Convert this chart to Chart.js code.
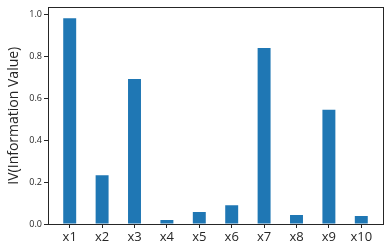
<!DOCTYPE html>
<html>
<head>
  <script src="https://cdn.jsdelivr.net/npm/chart.js@4.4.1/dist/chart.umd.min.js"></script>
<style>
  body { margin: 0; background: #fff; }
</style>
</head>
<body>
  <canvas id="myChart" width="390" height="251"></canvas>
  <script>
    // variables and their IV values
    var categories = ['x1', 'x2', 'x3', 'x4', 'x5', 'x6', 'x7', 'x8', 'x9', 'x10'];
    var ivValues = [0.981, 0.232, 0.692, 0.019, 0.057, 0.090, 0.839, 0.043, 0.545, 0.038];
    var yTicks = [0.0, 0.2, 0.4, 0.6, 0.8, 1.0];

    var axisColor = '#262626';

    // full box round the plot, like matplotlib spines
    var frame = {
      id: 'frame',
      afterDraw: function (chart) {
        var a = chart.chartArea, c = chart.ctx;
        c.save();
        c.strokeStyle = axisColor;
        c.lineWidth = 1;
        c.strokeRect(Math.round(a.left) + 0.5, Math.round(a.top) + 0.5,
          Math.round(a.right - a.left), Math.round(a.bottom - a.top));
        c.restore();
      }
    };

    var points = categories.map(function (c, i) { return { x: i, y: ivValues[i] }; });

    var ctx = document.getElementById('myChart');
    var myChart = new Chart(ctx, {
      type: 'bar',
      data: {
        datasets: [{
          data: points,
          backgroundColor: '#1f77b4',
          borderWidth: 0,
          barPercentage: 0.4,
          categoryPercentage: 1
        }]
      },
      plugins: [frame],
      options: {
        responsive: false,
        animation: false,
        layout: { padding: { left: 0, top: 6, right: 7, bottom: 0 } },
        plugins: { legend: { display: false }, tooltip: { enabled: false } },
        scales: {
          x: {
            type: 'linear',
            min: -0.67,
            max: 9.67,
            offset: false,
            border: { display: false },
            grid: { offset: false, drawOnChartArea: false, color: axisColor, tickLength: 4 },
            afterBuildTicks: function (s) {
              s.ticks = categories.map(function (c, i) { return { value: i }; });
            },
            afterFit: function (s) { s.height = 27; },
            ticks: {
              autoSkip: false,
              maxRotation: 0,
              padding: 1,
              color: axisColor,
              font: { family: 'Open Sans', size: 13 },
              callback: function (v) { return categories[Math.round(v)]; }
            }
          },
          y: {
            min: 0,
            max: 1.033,
            border: { display: false },
            grid: { drawOnChartArea: false, color: axisColor, tickLength: 4 },
            afterBuildTicks: function (s) {
              s.ticks = yTicks.map(function (v) { return { value: v }; });
            },
            afterFit: function (s) { s.width = 48; },
            ticks: {
              padding: 2,
              color: axisColor,
              font: { family: 'Open Sans', size: 9 },
              callback: function (v) { return v.toFixed(1); }
            },
            title: {
              display: true,
              text: 'IV(Information Value)',
              color: axisColor,
              padding: { top: 6, bottom: 0 },
              font: { family: 'Open Sans', size: 14 }
            }
          }
        }
      }
    });
  </script>
</body>
</html>
